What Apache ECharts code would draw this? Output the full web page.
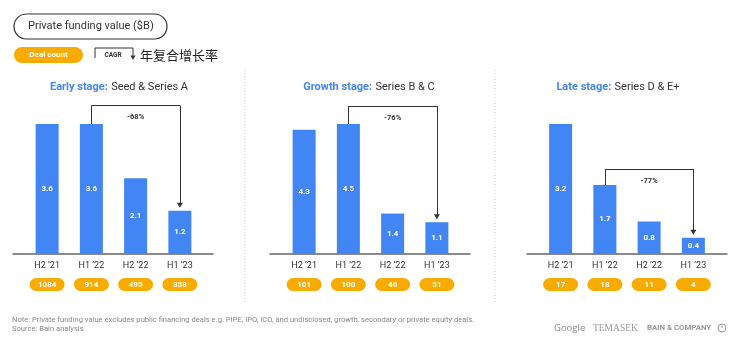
<!DOCTYPE html>
<html>
<head>
<meta charset="utf-8">
<script src="https://cdn.jsdelivr.net/npm/echarts@6/dist/echarts.min.js"></script>
<style>
html,body{margin:0;padding:0;background:#fff;}
#chart{width:750px;height:344px;}
</style>
</head>
<body>
<div id="chart"></div>
<script>
const categories = ["H2 \u201921", "H1 \u201922", "H2 \u201922", "H1 \u201923"];
const earlyValues = [3.6, 3.6, 2.1, 1.2];
const growthValues = [4.3, 4.5, 1.4, 1.1];
const lateValues = [3.2, 1.7, 0.8, 0.4];
const earlyDeals = [1084, 914, 495, 358];
const growthDeals = [101, 100, 46, 51];
const lateDeals = [17, 18, 11, 4];
const cagrLabels = ["-68%", "-76%", "-77%"];
const stageTitles = ["Early stage:", "Growth stage:", "Late stage:"];
const stageSubtitles = ["Seed & Series A", "Series B & C", "Series D & E+"];

const BLUE = '#4285F4', ORANGE = '#F9AB00', DARK = '#333333';
const FONT = 'Roboto, "Noto Sans", sans-serif';

const panels = [
  {values: earlyValues, deals: earlyDeals, cagr: cagrLabels[0]},
  {values: growthValues, deals: growthDeals, cagr: cagrLabels[1]},
  {values: lateValues, deals: lateDeals, cagr: cagrLabels[2]}
];
// layout (pixels)
const gridLefts = [25, 282, 538.5];
const gridWidth = 177;
const baseY = 254;
const maxBarPx = 130;
const headroom = 1.3;
const lineLefts = [13, 270, 527];
const titleX = [119, 369, 618];
const bracketGap = [18.5, 18, 16];

const grids = [], xAxes = [], yAxes = [], series = [];
panels.forEach((p, i) => {
  const pmax = Math.max(...p.values);
  const pxPerUnit = maxBarPx / pmax;
  grids.push({left: gridLefts[i], width: gridWidth, top: baseY - maxBarPx * headroom, height: maxBarPx * headroom});
  xAxes.push({
    type: 'category', gridIndex: i, data: categories,
    axisLine: {show: false}, axisTick: {show: false},
    axisLabel: {color: DARK, fontSize: 9, fontFamily: FONT, margin: 7, interval: 0}
  });
  xAxes.push({
    type: 'category', gridIndex: i, data: p.deals.map(String), position: 'bottom', offset: 20,
    axisLine: {show: false}, axisTick: {show: false},
    axisLabel: {
      interval: 0, color: '#fff', fontSize: 8, fontWeight: 'bold', fontFamily: FONT,
      backgroundColor: ORANGE, borderRadius: 7, width: 35, height: 13, lineHeight: 13,
      align: 'center', margin: 4
    }
  });
  yAxes.push({type: 'value', gridIndex: i, min: 0, max: pmax * headroom, show: false, splitLine: {show: false}});
  const fromIdx = 1, toIdx = 3;
  const fromV = p.values[fromIdx], toV = p.values[toIdx];
  const level = fromV + bracketGap[i] / pxPerUnit;
  const arrowEnd = toV + 5.5 / pxPerUnit;
  series.push({
    type: 'bar', xAxisIndex: 2 * i, yAxisIndex: i, data: p.values, barWidth: 23,
    itemStyle: {color: BLUE},
    label: {show: true, position: 'inside', color: '#fff', fontSize: 8, fontWeight: 'bold', fontFamily: FONT},
    silent: true,
    markLine: {
      silent: true, animation: false,
      symbol: ['none', 'none'],
      lineStyle: {color: DARK, width: 1, type: 'solid'},
      label: {show: false},
      data: [
        [{coord: [fromIdx, fromV]}, {coord: [fromIdx, level]}],
        [{coord: [fromIdx, level], label: {show: true, formatter: p.cagr, position: 'insideMiddleBottom', distance: 8, color: DARK, fontSize: 7.5, fontWeight: 'bold', fontFamily: FONT}},
         {coord: [toIdx, level]}],
        [{coord: [toIdx, level]}, {coord: [toIdx, arrowEnd], symbol: 'triangle', symbolSize: [6, 5], symbolRotate: 180}]
      ]
    }
  });
});
// baseline grids
panels.forEach((p, i) => {
  grids.push({left: lineLefts[i], width: 200, top: baseY - 1, height: 1});
  xAxes.push({
    type: 'value', gridIndex: 3 + i, min: 0, max: 1, position: 'bottom',
    axisLine: {show: true, onZero: false, lineStyle: {color: '#666', width: 1.5}},
    axisTick: {show: false}, axisLabel: {show: false}, splitLine: {show: false}
  });
  yAxes.push({type: 'value', gridIndex: 3 + i, min: 0, max: 1, show: false, splitLine: {show: false}});
});

const graphic = [
  {type: 'rect', shape: {x: 14, y: 14, width: 153, height: 25, r: 12.5}, style: {fill: 'none', stroke: DARK, lineWidth: 1.2}},
  {type: 'text', style: {text: 'Private funding value ($B)', x: 28, y: 26.5, textVerticalAlign: 'middle', font: '11px ' + FONT, fill: DARK}},
  {type: 'rect', shape: {x: 14, y: 47, width: 69, height: 16, r: 8}, style: {fill: ORANGE}},
  {type: 'text', style: {text: 'Deal count', x: 48.5, y: 55, textAlign: 'center', textVerticalAlign: 'middle', font: 'bold 8px ' + FONT, fill: '#fff'}},
  {type: 'polyline', shape: {points: [[95, 58], [95, 48], [133, 48], [133, 56]]}, style: {fill: 'none', stroke: DARK, lineWidth: 1}},
  {type: 'polygon', shape: {points: [[130.5, 55.5], [135.5, 55.5], [133, 60]]}, style: {fill: DARK}},
  {type: 'text', style: {text: 'CAGR', x: 113, y: 55, textAlign: 'center', textVerticalAlign: 'middle', font: 'bold 6.5px ' + FONT, fill: DARK}},
  {type: 'text', style: {text: '年复合增长率', x: 140, y: 55, textVerticalAlign: 'middle', font: '13px "Noto Sans CJK SC"', fill: '#222'}},
  {type: 'line', shape: {x1: 245, y1: 70, x2: 245, y2: 302}, style: {stroke: '#c8c8c8', lineWidth: 1, lineDash: [1, 2]}},
  {type: 'line', shape: {x1: 495, y1: 70, x2: 495, y2: 302}, style: {stroke: '#c8c8c8', lineWidth: 1, lineDash: [1, 2]}},
  {type: 'text', style: {text: 'Note: Private funding value excludes public financing deals e.g. PIPE, IPO, ICO, and undisclosed, growth, secondary or private equity deals.', x: 12, y: 320.5, textVerticalAlign: 'middle', font: '7.6px ' + FONT, fill: '#888'}},
  {type: 'text', style: {text: 'Source: Bain analysis', x: 12, y: 329, textVerticalAlign: 'middle', font: '7.6px ' + FONT, fill: '#888'}},
  {type: 'text', style: {text: 'Google', x: 554, y: 328, textVerticalAlign: 'middle', font: '9.5px "Open Sans", ' + FONT, fill: '#888'}},
  {type: 'text', style: {text: 'TEMASEK', x: 593, y: 328, textVerticalAlign: 'middle', font: '9.5px "Liberation Serif", serif', fill: '#999'}},
  {type: 'text', style: {text: 'BAIN & COMPANY', x: 647, y: 328, textVerticalAlign: 'middle', font: 'bold 7.8px ' + FONT, fill: '#999'}},
  {type: 'circle', shape: {cx: 722, cy: 328, r: 4}, style: {fill: 'none', stroke: '#999', lineWidth: 1}},
  {type: 'line', shape: {x1: 722, y1: 325.5, x2: 722, y2: 328}, style: {stroke: '#999', lineWidth: 1}}
];
stageTitles.forEach((t, i) => {
  graphic.push({type: 'text', style: {
    text: '{a|' + t + '} {b|' + stageSubtitles[i] + '}', x: titleX[i], y: 87.5,
    textAlign: 'center', textVerticalAlign: 'middle',
    rich: {
      a: {fontSize: 11, fontWeight: 'bold', fill: BLUE, fontFamily: FONT},
      b: {fontSize: 11, fill: DARK, fontFamily: FONT}
    }
  }});
});

const chart = echarts.init(document.getElementById('chart'), null, {renderer: 'canvas'});
chart.setOption({
  animation: false,
  backgroundColor: '#fff',
  grid: grids, xAxis: xAxes, yAxis: yAxes, series: series, graphic: graphic
});
</script>
</body>
</html>
